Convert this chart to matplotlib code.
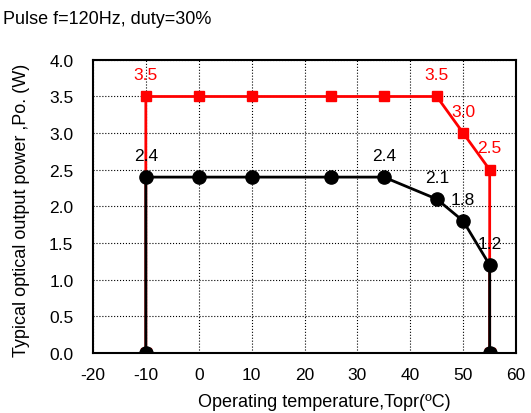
import matplotlib
matplotlib.use('Agg')
import matplotlib.pyplot as plt

plt.rcParams['font.family'] = ['Liberation Sans', 'DejaVu Sans']
plt.rcParams['axes.unicode_minus'] = False

# temperatures (C) and output power (W)
red_t = [-10, -10, 0, 10, 25, 35, 45, 50, 55, 55]
red_p = [0.0, 3.5, 3.5, 3.5, 3.5, 3.5, 3.5, 3.0, 2.5, 0.0]
blk_t = [-10, -10, 0, 10, 25, 35, 45, 50, 55, 55]
blk_p = [0.0, 2.4, 2.4, 2.4, 2.4, 2.4, 2.1, 1.8, 1.2, 0.0]

# which points get value labels
red_lab_t = [-10, 45, 50, 55]
red_lab_p = [3.5, 3.5, 3.0, 2.5]
blk_lab_t = [-10, 35, 45, 50, 55]
blk_lab_p = [2.4, 2.4, 2.1, 1.8, 1.2]

fig = plt.figure(figsize=(5.31, 4.14), dpi=100)
ax = fig.add_axes([0.175, 0.145, 0.797, 0.708])

ax.plot(red_t, red_p, color='red', lw=2, marker='s', ms=7.5, zorder=3)
ax.plot(blk_t, blk_p, color='black', lw=2, marker='o', ms=9.5, zorder=4)

for x, y in zip(red_lab_t, red_lab_p):
    ax.text(x, y + 0.3, f'{y:.1f}', color='red', ha='center', va='center', fontsize=12.5)
for x, y in zip(blk_lab_t, blk_lab_p):
    ax.text(x, y + 0.3, f'{y:.1f}', color='black', ha='center', va='center', fontsize=12.5)

ax.set_xlim(-20, 60)
ax.set_ylim(0, 4)
ax.set_xticks(range(-20, 61, 10))
ax.set_yticks([i * 0.5 for i in range(9)])
ax.set_yticklabels([f'{i * 0.5:.1f}' for i in range(9)])
ax.tick_params(length=0, labelsize=12.5)
ax.tick_params(axis='y', pad=14)
ax.tick_params(axis='x', pad=10)
ax.grid(True, color='black', linestyle=':', linewidth=0.8)
for sp in ax.spines.values():
    sp.set_linewidth(1.5)

fig.text(324 / 531, 1 - 403 / 414, 'Operating temperature,Topr(\u00baC)',
         fontsize=13, ha='center', va='center')
fig.text(22 / 531, 1 - 210 / 414, 'Typical optical output power ,Po. (W)',
         fontsize=13, ha='center', va='center', rotation=90)
fig.text(0.006, 1 - 20 / 414, 'Pulse f=120Hz, duty=30%', fontsize=13, va='center')

fig.savefig('out.png', dpi=100)
